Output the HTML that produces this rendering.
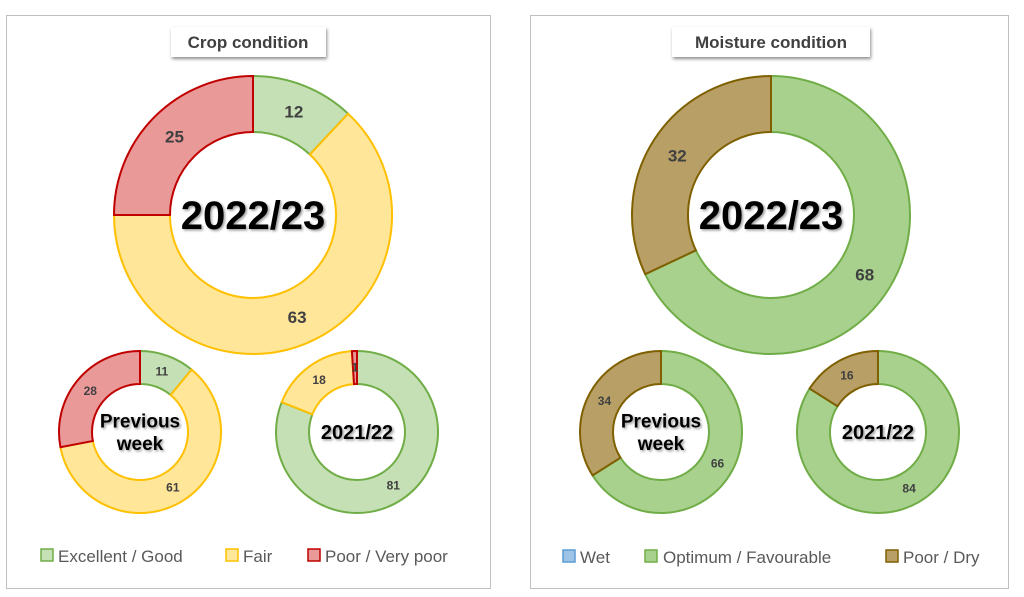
<!DOCTYPE html>
<html><head><meta charset="utf-8">
<style>
body{margin:0;background:#fff;width:1024px;height:597px;overflow:hidden;font-family:"Liberation Sans","DejaVu Sans",sans-serif}
svg{display:block}
</style></head>
<body>
<svg id="chart" width="1024" height="597" xmlns="http://www.w3.org/2000/svg">
<defs>
<filter id="sh" x="-20%" y="-20%" width="140%" height="160%"><feDropShadow dx="1" dy="2" stdDeviation="1.5" flood-color="#000" flood-opacity="0.45"/></filter>
<filter id="tsh" x="-10%" y="-10%" width="120%" height="130%"><feDropShadow dx="1.5" dy="1.5" stdDeviation="1.2" flood-color="#000" flood-opacity="0.4"/></filter>
</defs>
<rect x="6.5" y="15.5" width="484" height="573" fill="#fff" stroke="#bfbfbf"/>
<rect x="530.5" y="15.5" width="478" height="573" fill="#fff" stroke="#bfbfbf"/>
<g>
<rect x="171" y="27" width="155" height="30" fill="#fff" filter="url(#sh)"/>
<text x="248" y="48" text-anchor="middle" font-size="17" font-weight="bold" fill="#404040">Crop condition</text>
</g>
<g>
<rect x="672" y="27" width="198" height="30" fill="#fff" filter="url(#sh)"/>
<text x="771" y="48" text-anchor="middle" font-size="17" font-weight="bold" fill="#404040">Moisture condition</text>
</g>
<g id="donuts"></g>
<g>
<rect x="41" y="549" width="12" height="12" fill="#c5e0b4" stroke="#70ad47" stroke-width="1.5"/>
<text x="58" y="562" font-size="17" fill="#595959">Excellent / Good</text>
<rect x="226" y="549" width="12" height="12" fill="#ffe699" stroke="#ffc000" stroke-width="1.5"/>
<text x="243" y="562" font-size="17" fill="#595959">Fair</text>
<rect x="308" y="549" width="12" height="12" fill="#ea9999" stroke="#c00000" stroke-width="1.5"/>
<text x="325" y="562" font-size="17" fill="#595959">Poor / Very poor</text>
</g>
<g>
<rect x="563" y="550" width="12" height="12" fill="#9dc3e6" stroke="#5b9bd5" stroke-width="1.5"/>
<text x="580" y="563" font-size="17" fill="#595959">Wet</text>
<rect x="645" y="550" width="12" height="12" fill="#a9d18e" stroke="#70ad47" stroke-width="1.5"/>
<text x="663" y="563" font-size="17" fill="#595959">Optimum / Favourable</text>
<rect x="886" y="550" width="12" height="12" fill="#b89f66" stroke="#7f6000" stroke-width="1.5"/>
<text x="903" y="563" font-size="17" fill="#595959">Poor / Dry</text>
</g>
</svg>
<script>
const cropCurrent=[12,63,25];
const cropPrevious=[11,61,28];
const cropLastYear=[81,18,1];
const moistCurrent=[0,68,32];
const moistPrevious=[0,66,34];
const moistLastYear=[0,84,16];
const cropLabels=["Excellent / Good","Fair","Poor / Very poor"];
const moistLabels=["Wet","Optimum / Favourable","Poor / Dry"];

const cropFill=["#c5e0b4","#ffe699","#ea9999"],cropStroke=["#70ad47","#ffc000","#c00000"];
const moistFill=["#9dc3e6","#a9d18e","#b89f66"],moistStroke=["#5b9bd5","#70ad47","#7f6000"];
const NS="http://www.w3.org/2000/svg";
const g=document.getElementById('donuts');
function pt(cx,cy,r,a){return [cx+r*Math.sin(a),cy-r*Math.cos(a)];}
function donut(name,vals,cx,cy,R,r,fills,strokes,center,cfs,labFs,showZero){
  const grp=document.createElementNS(NS,'g');
  
  
  g.appendChild(grp);
  const tot=vals.reduce((a,b)=>a+b,0);let a0=0;
  vals.forEach((v,i)=>{
    const a1=a0+v/tot*2*Math.PI;
    if(v>0){
      const p=document.createElementNS(NS,'path');
      const lg=(a1-a0)>Math.PI?1:0;
      const [x1,y1]=pt(cx,cy,R,a0),[x2,y2]=pt(cx,cy,R,a1),[x3,y3]=pt(cx,cy,r,a1),[x4,y4]=pt(cx,cy,r,a0);
      p.setAttribute('d',`M${x1},${y1}A${R},${R} 0 ${lg} 1 ${x2},${y2}L${x3},${y3}A${r},${r} 0 ${lg} 0 ${x4},${y4}Z`);
      p.setAttribute('fill',fills[i]);p.setAttribute('stroke',strokes[i]);p.setAttribute('stroke-width','2');
      
      
      grp.appendChild(p);
    }
    if(v>0||(showZero&&i===0)){
      const am=(a0+a1)/2;const [lx,ly]=pt(cx,cy,(R+r)/2,am);
      const t=document.createElementNS(NS,'text');
      t.setAttribute('x',lx);t.setAttribute('y',ly+labFs*0.35);t.setAttribute('text-anchor','middle');
      t.setAttribute('font-size',labFs);t.setAttribute('font-weight','bold');t.setAttribute('fill','#404040');
      t.textContent=v;
      
      
      grp.appendChild(t);
    }
    a0=a1;
  });
  const lines=center.split('\n');
  lines.forEach((ln,k)=>{
    const t=document.createElementNS(NS,'text');
    t.setAttribute('x',cx);t.setAttribute('y',cy+cfs*0.35+(k-(lines.length-1)/2)*cfs*1.2);
    t.setAttribute('text-anchor','middle');t.setAttribute('font-size',cfs);t.setAttribute('font-weight','bold');
    t.setAttribute('fill','#000');t.setAttribute('filter','url(#tsh)');
    t.textContent=ln;
    
    
    grp.appendChild(t);
  });
}
donut('crop-donut-2022-23',cropCurrent,253,215,139,83,cropFill,cropStroke,'2022/23',40,17,false);
donut('crop-donut-previous-week',cropPrevious,140,432,81,48,cropFill,cropStroke,'Previous\nweek',19,12,false);
donut('crop-donut-2021-22',cropLastYear,357,432,81,48,cropFill,cropStroke,'2021/22',20,12,false);
donut('moisture-donut-2022-23',moistCurrent,771,215,139,83,moistFill,moistStroke,'2022/23',40,17,true);
donut('moisture-donut-previous-week',moistPrevious,661,432,81,48,moistFill,moistStroke,'Previous\nweek',19,12,false);
donut('moisture-donut-2021-22',moistLastYear,878,432,81,48,moistFill,moistStroke,'2021/22',20,12,true);
</script>
</body></html>
